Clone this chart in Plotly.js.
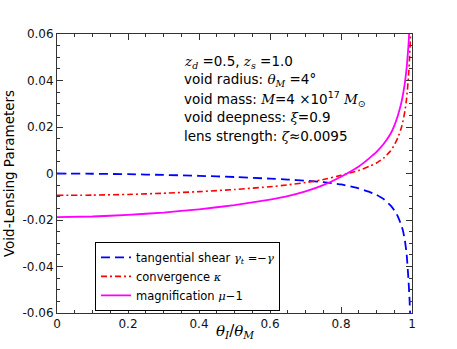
<!DOCTYPE html>
<html>
<head>
<meta charset="utf-8">
<script src="https://cdn.plot.ly/plotly-3.0.1.min.js"></script>
<style>
  html, body { margin: 0; padding: 0; background: #fff; }
  #chart { width: 457px; height: 349px; }
</style>
</head>
<body>
<div id="chart"></div>
<script>
// theta_I / theta_M
const ratio = [0, 0.1, 0.2, 0.3, 0.4, 0.5, 0.6, 0.65, 0.7, 0.75, 0.8, 0.85, 0.88, 0.9,
               0.92, 0.94, 0.95, 0.96, 0.97, 0.975, 0.98, 0.985, 0.99, 0.993, 0.996, 1.0];

// tangential shear gamma_t = -gamma
const shear = [0, -0.0001, -0.0003, -0.0006, -0.0010, -0.0015, -0.0022, -0.0026, -0.0031,
               -0.0037, -0.0047, -0.0064, -0.0079, -0.0092, -0.0110, -0.0138, -0.0158,
               -0.0184, -0.0222, -0.0249, -0.0288, -0.0348, -0.0455, -0.054, -0.066, -0.085];

// convergence kappa
const kappa = [-0.0094, -0.0093, -0.0090, -0.0085, -0.0078, -0.0069, -0.0057, -0.0049,
               -0.0039, -0.0026, -0.0008, 0.0013, 0.0031, 0.0045, 0.0066, 0.0098, 0.0122,
               0.0153, 0.0197, 0.0228, 0.0268, 0.0325, 0.0415, 0.0495, 0.06, 0.078];

// magnification mu - 1
const magnif = [-0.0188, -0.0185, -0.0178, -0.0168, -0.0154, -0.0136, -0.0112, -0.0097,
                -0.0077, -0.0050, -0.0014, 0.0030, 0.0066, 0.0093, 0.0127, 0.0172, 0.0205,
                0.0248, 0.0305, 0.0343, 0.039, 0.0455, 0.055, 0.063, 0.073, 0.092];

const yTickVals = [-0.06, -0.04, -0.02, 0, 0.02, 0.04, 0.06];
const yTickText = ['-0.06', '-0.04', '-0.02', '0', '0.02', '0.04', '0.06'];
const xTickVals = [0, 0.2, 0.4, 0.6, 0.8, 1];
const xTickText = ['0', '0.2', '0.4', '0.6', '0.8', '1'];

const serif = 'font-family:\'DejaVu Serif\', serif;font-style:italic';
const m = s => `<span style="${serif}">${s}</span>`;

const infoLines = [
  `${m('z')}<sub>${m('d')}</sub> =0.5, ${m('z')}<sub>${m('s')}</sub> =1.0`,
  `void radius: ${m('θ')}<sub>${m('M')}</sub> =4°`,
  `void mass: ${m('M')}=4 ×10<sup>17</sup> ${m('M')}<sub>⊙</sub>`,
  `void deepness: ${m('ξ')}=0.9`,
  `lens strength: ${m('ζ')}≈0.0095`
];

const traces = [
  {
    x: ratio, y: shear, mode: 'lines', type: 'scatter',
    name: `tangential shear ${m('γ')}<sub>${m('t')}</sub> =−${m('γ')}`,
    line: { color: '#0000ff', width: 1.8, dash: '9px,5px', shape: 'spline', smoothing: 0.3 }
  },
  {
    x: ratio, y: kappa, mode: 'lines', type: 'scatter',
    name: `convergence ${m('κ')}`,
    line: { color: '#ff0000', width: 1.6, dash: '6px,3px,2px,3px', shape: 'spline', smoothing: 0.3 }
  },
  {
    x: ratio, y: magnif, mode: 'lines', type: 'scatter',
    name: `magnification ${m('μ')}−1`,
    line: { color: '#ff00ff', width: 1.8, shape: 'spline', smoothing: 0.3 }
  }
];

const annotations = infoLines.map((t, i) => ({
  xref: 'paper', yref: 'paper',
  x: 0.352, y: 0.90 - i * 0.066,
  xanchor: 'left', yanchor: 'middle',
  text: t, showarrow: false,
  font: { size: 13.5, color: '#000' }
}));

// x-axis title placed as annotation so it sits where the reference has it
annotations.push({
  xref: 'paper', yref: 'paper', x: 0.5, y: -0.068,
  xanchor: 'center', yanchor: 'middle', showarrow: false,
  text: `${m('θ')}<sub>${m('I')}</sub>/${m('θ')}<sub>${m('M')}</sub>`,
  font: { size: 15, color: '#000' }
});

const axisCommon = {
  showgrid: false, zeroline: false,
  showline: true, linecolor: '#333', linewidth: 1,
  mirror: 'allticks', ticks: 'inside', ticklen: 6, tickcolor: '#333',
  tickfont: { size: 12, color: '#111' }
};

const layout = {
  width: 457, height: 349,
  margin: { l: 57, r: 45, t: 34, b: 36 },
  paper_bgcolor: '#fff', plot_bgcolor: '#fff',
  font: { family: 'DejaVu Sans, sans-serif', color: '#000' },
  showlegend: true,
  legend: {
    x: 0.107, y: 0.255, xanchor: 'left', yanchor: 'top',
    bgcolor: '#fff', bordercolor: '#000', borderwidth: 1,
    font: { size: 11.5 }, tracegroupgap: 0, itemwidth: 30
  },
  xaxis: Object.assign({}, axisCommon, {
    range: [0, 1],
    tickmode: 'array', tickvals: xTickVals, ticktext: xTickText,
    minor: { dtick: 0.05, ticks: 'inside', ticklen: 3, tickcolor: '#333' }
  }),
  yaxis: Object.assign({}, axisCommon, {
    range: [-0.06, 0.06],
    tickmode: 'array', tickvals: yTickVals, ticktext: yTickText,
    minor: { dtick: 0.005, ticks: 'inside', ticklen: 3, tickcolor: '#333' },
    title: { text: 'Void-Lensing Parameters', font: { size: 13.5 }, standoff: 4 }
  }),
  annotations: annotations
};

Plotly.newPlot('chart', traces, layout, { displayModeBar: false, staticPlot: true });
</script>
</body>
</html>
